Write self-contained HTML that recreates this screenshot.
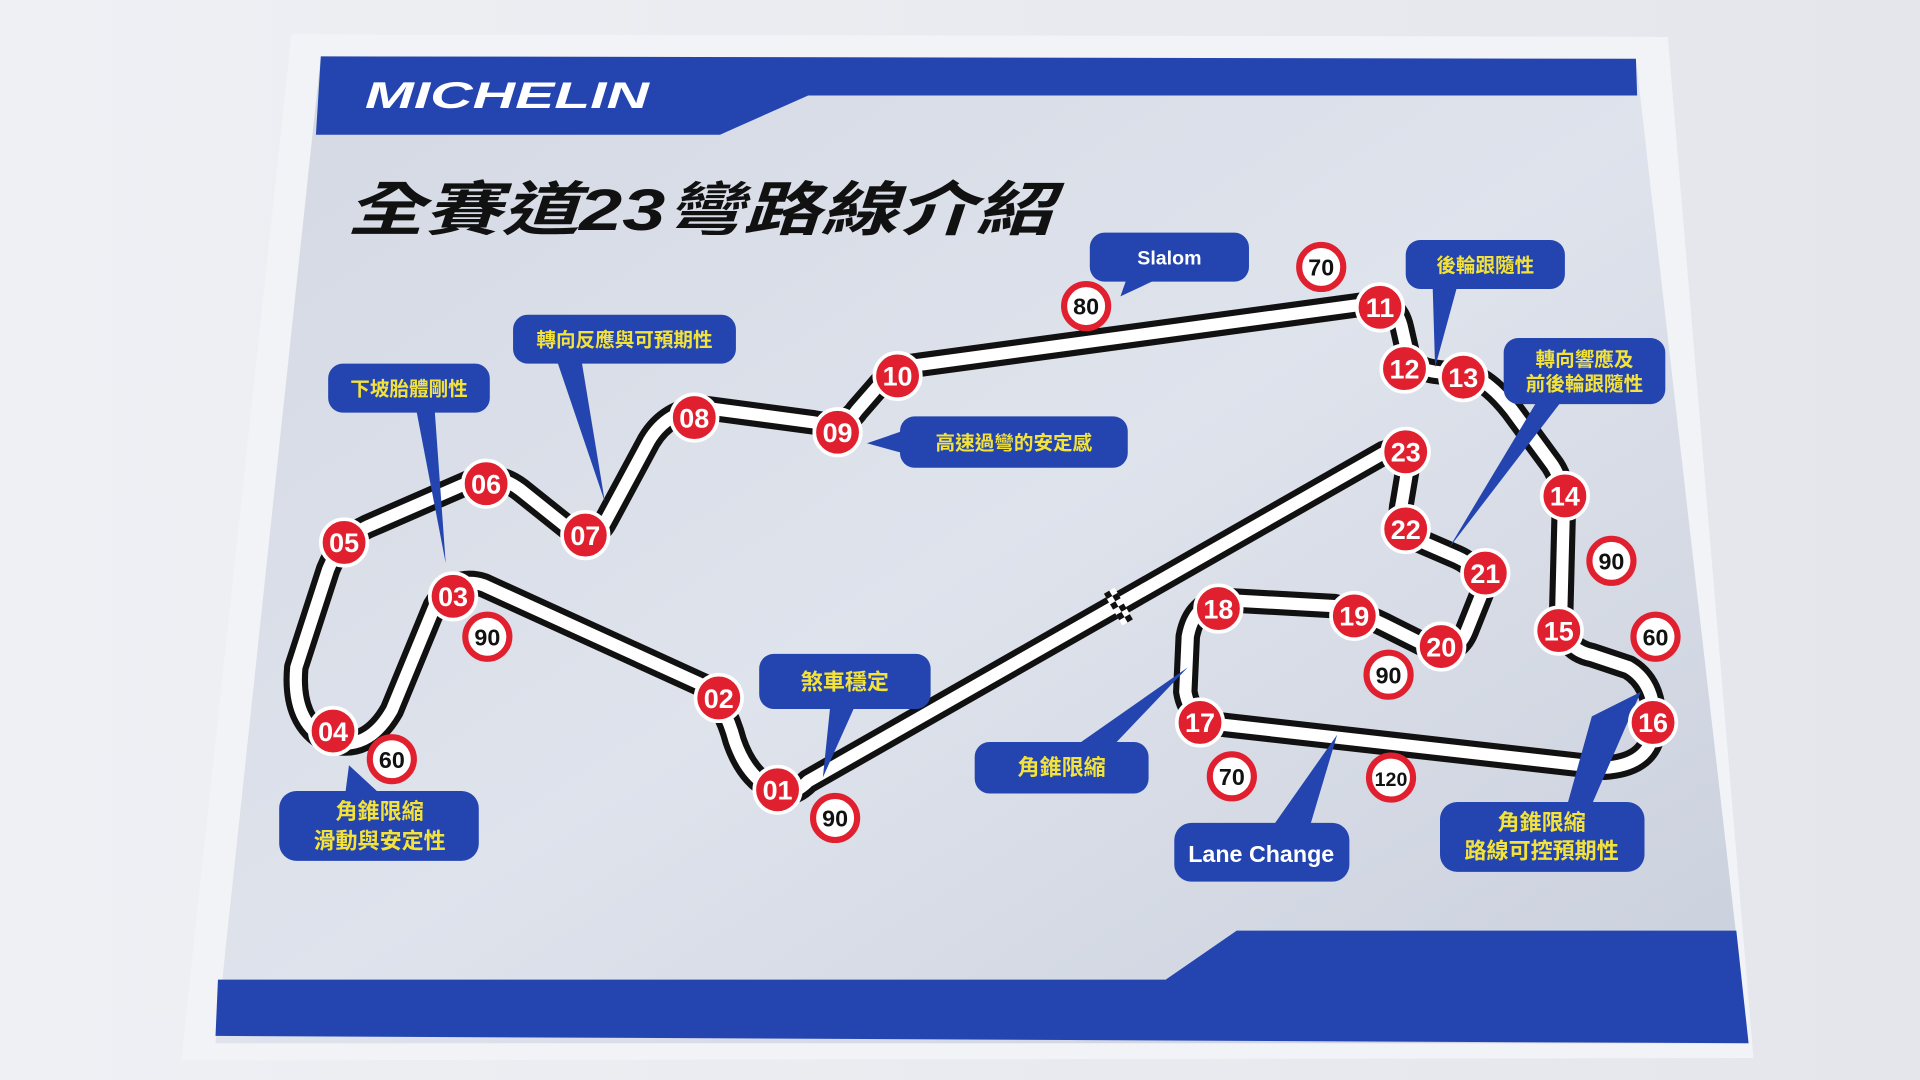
<!DOCTYPE html>
<html><head><meta charset="utf-8"><style>
html,body{margin:0;padding:0;background:#e9ebf0;}
svg{display:block}
.t{font-family:"Liberation Sans","Noto Sans CJK TC",sans-serif;font-weight:bold}
</style></head><body>
<svg width="1920" height="1080" viewBox="0 0 1568 882" preserveAspectRatio="none" xmlns="http://www.w3.org/2000/svg">
<defs>
<linearGradient id="pg" x1="0" y1="0" x2="1" y2="1">
<stop offset="0" stop-color="#d3d8e3"/><stop offset="0.5" stop-color="#dfe3ec"/><stop offset="1" stop-color="#c9cfdc"/>
</linearGradient>
<linearGradient id="bg" x1="0" y1="0" x2="1" y2="0">
<stop offset="0" stop-color="#eef0f4"/><stop offset="1" stop-color="#e4e6ec"/>
</linearGradient>
</defs>
<rect width="1568" height="882" fill="url(#bg)"/>
<polygon points="238,28 1362,30 1432,864 148,866" fill="#f2f3f6"/>
<polygon points="262,46 1336,48 1428,852 176,852" fill="url(#pg)"/>
<polygon points="262,46 1336,48 1337,78 660,78 588,110 258,110" fill="#2445b0"/>
<polygon points="178,800 952,800 1010,760 1418,760 1428,852 176,846" fill="#2445b0"/>
<text x="298" y="88" class="t" font-size="30" font-style="italic" fill="#fff" textLength="232" lengthAdjust="spacingAndGlyphs">MICHELIN</text>
<text x="283" y="188" class="t" font-size="48" font-style="italic" fill="#111" textLength="577" lengthAdjust="spacingAndGlyphs">全賽道23彎路線介紹</text>

<g fill="none" stroke-linejoin="round" stroke-linecap="round">
<path d="M640,648 Q612,640 600,605 Q592,575 575,560 L395,478 Q370,470 355,495 L320,580 Q300,615 268,605 Q238,590 242,545 L268,465 Q278,440 300,430 L385,393 Q405,385 425,400 L465,432 Q485,445 495,425 L530,360 Q545,335 575,333 L665,345 Q690,350 700,335 L720,312 Q730,300 750,298 L1118,248 Q1140,245 1145,268 L1150,290 Q1155,302 1175,304 L1200,307 Q1215,310 1235,335 L1268,380 Q1278,395 1277,420 L1275,500 Q1275,530 1300,535 L1330,545 Q1355,560 1350,600 Q1345,625 1310,627 L1000,592 Q972,590 968,565 L970,520 Q975,492 1000,490 L1090,495 Q1110,500 1130,510 L1170,530 Q1190,535 1198,515 L1210,485 Q1212,465 1190,455 L1160,442 Q1140,432 1145,410 L1150,380 Q1152,362 1130,370 L660,638 Q650,648 640,648 Z" stroke="#111" stroke-width="20"/>
<path d="M640,648 Q612,640 600,605 Q592,575 575,560 L395,478 Q370,470 355,495 L320,580 Q300,615 268,605 Q238,590 242,545 L268,465 Q278,440 300,430 L385,393 Q405,385 425,400 L465,432 Q485,445 495,425 L530,360 Q545,335 575,333 L665,345 Q690,350 700,335 L720,312 Q730,300 750,298 L1118,248 Q1140,245 1145,268 L1150,290 Q1155,302 1175,304 L1200,307 Q1215,310 1235,335 L1268,380 Q1278,395 1277,420 L1275,500 Q1275,530 1300,535 L1330,545 Q1355,560 1350,600 Q1345,625 1310,627 L1000,592 Q972,590 968,565 L970,520 Q975,492 1000,490 L1090,495 Q1110,500 1130,510 L1170,530 Q1190,535 1198,515 L1210,485 Q1212,465 1190,455 L1160,442 Q1140,432 1145,410 L1150,380 Q1152,362 1130,370 L660,638 Q650,648 640,648 Z" stroke="#fff" stroke-width="10"/>
</g>
<g transform="translate(912,495) rotate(-30)">
<rect x="-4" y="-14" width="10" height="30" fill="#fff"/>
<rect x="-4" y="-14" width="5" height="5" fill="#111"/><rect x="1" y="-9" width="5" height="5" fill="#111"/>
<rect x="-4" y="-4" width="5" height="5" fill="#111"/><rect x="1" y="1" width="5" height="5" fill="#111"/>
<rect x="-4" y="6" width="5" height="5" fill="#111"/><rect x="1" y="11" width="5" height="5" fill="#111"/>
</g>

<g fill="#2445b0">
<rect x="268" y="297" width="132" height="40" rx="12"/><polygon points="340,335 355,335 364,460"/>
<rect x="419" y="257" width="182" height="40" rx="12"/><polygon points="455,295 475,295 494,410"/>
<rect x="890" y="190" width="130" height="40" rx="12"/><polygon points="920,228 945,228 915,242"/>
<rect x="735" y="340" width="186" height="42" rx="12"/><polygon points="737,352 737,370 708,362"/>
<rect x="1148" y="196" width="130" height="40" rx="12"/><polygon points="1170,234 1190,234 1172,300"/>
<rect x="1228" y="276" width="132" height="54" rx="12"/><polygon points="1255,328 1275,328 1183,448"/>
<rect x="620" y="534" width="140" height="45" rx="12"/><polygon points="678,577 698,577 672,635"/>
<rect x="796" y="606" width="142" height="42" rx="12"/><polygon points="880,608 910,608 970,545"/>
<rect x="228" y="646" width="163" height="57" rx="14"/><polygon points="282,648 310,648 285,625"/>
<rect x="959" y="672" width="143" height="48" rx="14"/><polygon points="1040,674 1070,674 1092,600"/>
<rect x="1176" y="655" width="167" height="57" rx="14"/><polygon points="1280,657 1300,657 1340,565 1300,585"/>
</g>
<g class="t" font-size="16" fill="#f3e23a" text-anchor="middle">
<text x="334" y="323">下坡胎體剛性</text>
<text x="510" y="283">轉向反應與可預期性</text>
<text x="955" y="216" fill="#fff">Slalom</text>
<text x="828" y="367">高速過彎的安定感</text>
<text x="1213" y="222">後輪跟隨性</text>
<text x="1294" y="299">轉向響應及</text>
<text x="1294" y="319">前後輪跟隨性</text>
<text x="690" y="563" font-size="18">煞車穩定</text>
<text x="867" y="633" font-size="18">角錐限縮</text>
<text x="310" y="669" font-size="18">角錐限縮</text>
<text x="310" y="693" font-size="18">滑動與安定性</text>
<text x="1030" y="704" font-size="19" fill="#fff">Lane Change</text>
<text x="1259" y="678" font-size="18">角錐限縮</text>
<text x="1259" y="701" font-size="18">路線可控預期性</text>
</g>

<g class="t" font-size="22" text-anchor="middle">
<g fill="#e0202e" stroke="#fff" stroke-width="3">
<circle cx="635" cy="645" r="19"/><circle cx="587" cy="570" r="19"/><circle cx="370" cy="487" r="19"/>
<circle cx="272" cy="597" r="19"/><circle cx="281" cy="443" r="19"/><circle cx="397" cy="395" r="19"/>
<circle cx="478" cy="437" r="19"/><circle cx="567" cy="341" r="19"/><circle cx="684" cy="353" r="19"/>
<circle cx="733" cy="307" r="19"/><circle cx="1127" cy="251" r="19"/><circle cx="1147" cy="301" r="19"/>
<circle cx="1195" cy="308" r="19"/><circle cx="1278" cy="405" r="19"/><circle cx="1273" cy="515" r="19"/>
<circle cx="1350" cy="590" r="19"/><circle cx="980" cy="590" r="19"/><circle cx="995" cy="497" r="19"/>
<circle cx="1106" cy="503" r="19"/><circle cx="1177" cy="528" r="19"/><circle cx="1213" cy="468" r="19"/>
<circle cx="1148" cy="432" r="19"/><circle cx="1148" cy="369" r="19"/>
</g>
<g fill="#fff">
<text x="635" y="653">01</text><text x="587" y="578">02</text><text x="370" y="495">03</text>
<text x="272" y="605">04</text><text x="281" y="451">05</text><text x="397" y="403">06</text>
<text x="478" y="445">07</text><text x="567" y="349">08</text><text x="684" y="361">09</text>
<text x="733" y="315">10</text><text x="1127" y="259">11</text><text x="1147" y="309">12</text>
<text x="1195" y="316">13</text><text x="1278" y="413">14</text><text x="1273" y="523">15</text>
<text x="1350" y="598">16</text><text x="980" y="598">17</text><text x="995" y="505">18</text>
<text x="1106" y="511">19</text><text x="1177" y="536">20</text><text x="1213" y="476">21</text>
<text x="1148" y="440">22</text><text x="1148" y="377">23</text>
</g>
</g>

<g fill="#fff" stroke="#e0202e" stroke-width="5">
<circle cx="398" cy="520" r="18"/><circle cx="320" cy="620" r="18"/><circle cx="682" cy="668" r="18"/>
<circle cx="887" cy="250" r="18"/><circle cx="1079" cy="218" r="18"/><circle cx="1316" cy="458" r="18"/>
<circle cx="1352" cy="520" r="18"/><circle cx="1134" cy="551" r="18"/><circle cx="1006" cy="634" r="18"/>
<circle cx="1136" cy="635" r="18"/>
</g>
<g class="t" font-size="19" fill="#111" text-anchor="middle">
<text x="398" y="527">90</text><text x="320" y="627">60</text><text x="682" y="675">90</text>
<text x="887" y="257">80</text><text x="1079" y="225">70</text><text x="1316" y="465">90</text>
<text x="1352" y="527">60</text><text x="1134" y="558">90</text><text x="1006" y="641">70</text>
<text x="1136" y="642" font-size="16">120</text>
</g>
</svg>
</body></html>
